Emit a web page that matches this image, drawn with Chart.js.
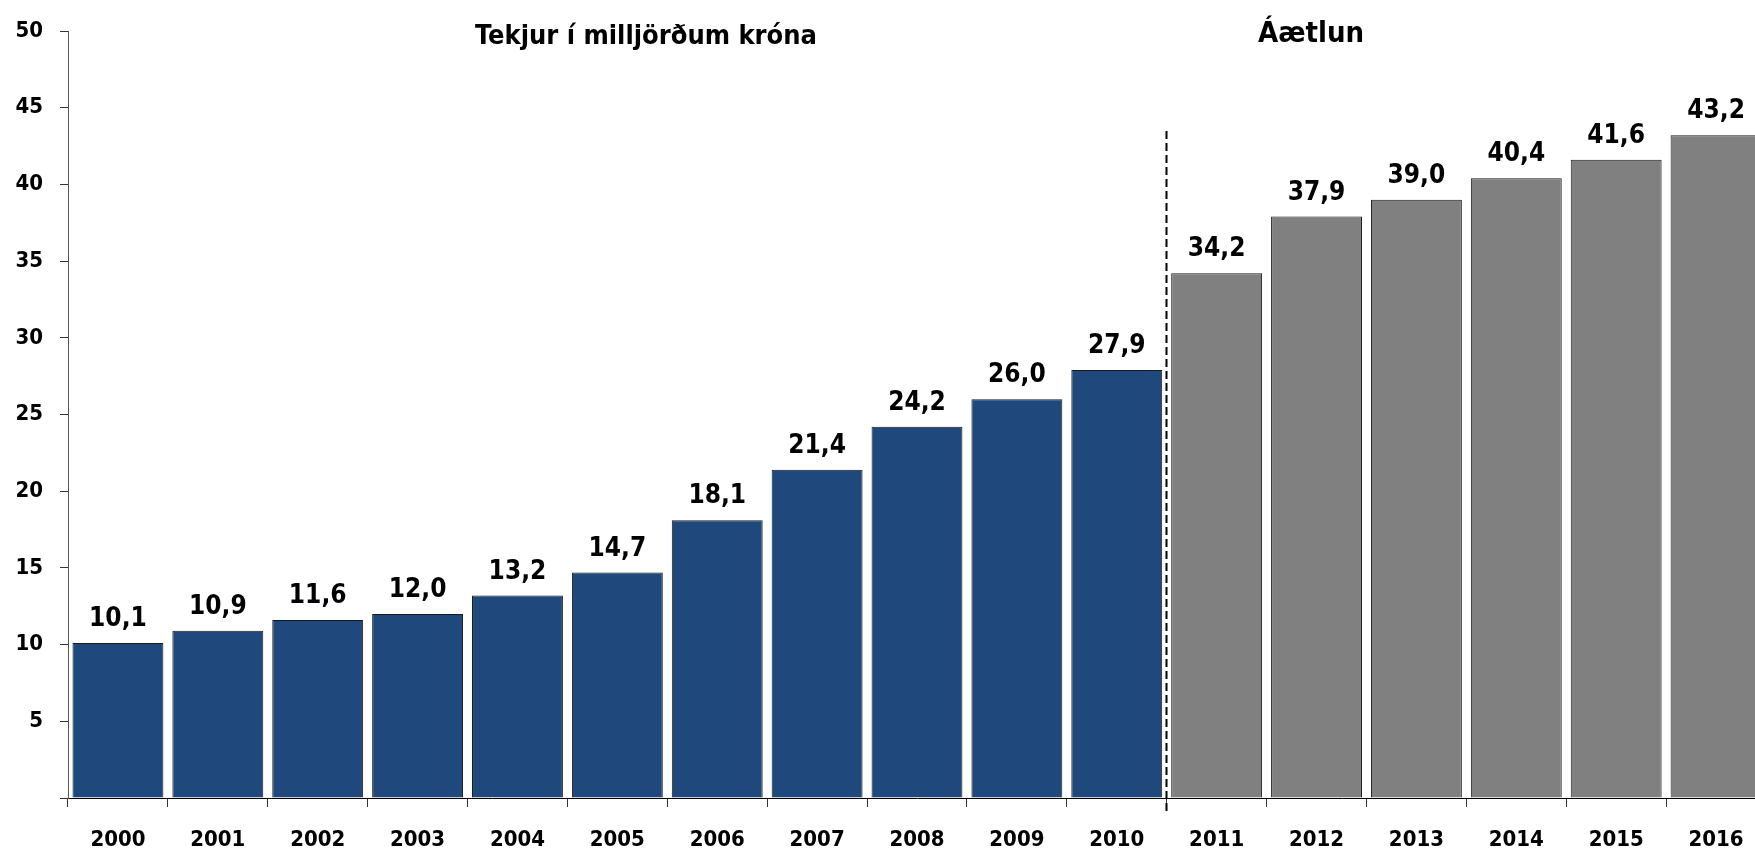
<!DOCTYPE html>
<html>
<head>
<meta charset="utf-8">
<script src="https://cdn.jsdelivr.net/npm/chart.js@4.4.0/dist/chart.umd.min.js"></script>
<style>
  html, body { margin: 0; padding: 0; background: #fff; overflow: hidden; }
  #chart { position: absolute; left: 0; top: 0; }
</style>
</head>
<body>
<canvas id="chart" width="1766" height="852"></canvas>
<script>
// --- Data ---
const years = ['2000', '2001', '2002', '2003', '2004', '2005', '2006', '2007', '2008',
  '2009', '2010', '2011', '2012', '2013', '2014', '2015', '2016'];
const revenue = [10.1, 10.9, 11.6, 12.0, 13.2, 14.7, 18.1, 21.4, 24.2,
  26.0, 27.9, 34.2, 37.9, 39.0, 40.4, 41.6, 43.2];
const actualCount = 11; // 2000-2010 actual, rest is plan
const yTicks = [0, 5, 10, 15, 20, 25, 30, 35, 40, 45, 50];
const titleText = 'Tekjur í milljörðum króna';
const planText = 'Áætlun';

const FONT = "'DejaVu Sans Condensed', 'DejaVu Sans', sans-serif";
const barColors = years.map((y, i) => i < actualCount ? '#1f497d' : '#808080');

// --- Value labels above bars ---
const valueLabels = {
  id: 'valueLabels',
  afterDatasetsDraw(chart) {
    const ctx = chart.ctx;
    const meta = chart.getDatasetMeta(0);
    ctx.save();
    ctx.font = 'bold 26px ' + FONT;
    ctx.fillStyle = '#000';
    ctx.textAlign = 'center';
    ctx.textBaseline = 'alphabetic';
    meta.data.forEach((bar, i) => {
      ctx.fillText(revenue[i].toFixed(1).replace('.', ','), bar.x, bar.y - 17);
    });
    ctx.restore();
  }
};

// --- Titles and dashed divider ---
const decorations = {
  id: 'decorations',
  afterDraw(chart) {
    const ctx = chart.ctx;
    const xs = chart.scales.x;
    const divX = Math.round((xs.getPixelForValue(actualCount - 1) + xs.getPixelForValue(actualCount)) / 2) - 0.5;
    ctx.save();
    ctx.strokeStyle = '#000';
    ctx.lineWidth = 2;
    ctx.setLineDash([8, 4]);
    ctx.beginPath();
    ctx.moveTo(divX, 131);
    ctx.lineTo(divX, 811);
    ctx.stroke();
    ctx.setLineDash([]);

    ctx.fillStyle = '#000';
    ctx.textAlign = 'center';
    ctx.textBaseline = 'alphabetic';
    ctx.font = 'bold 27px ' + FONT;
    ctx.fillText(titleText, 646, 44);
    ctx.font = 'bold 29px ' + FONT;
    ctx.fillText(planText, 1311, 42);
    ctx.restore();
  }
};

const chart = new Chart(document.getElementById('chart'), {
  type: 'bar',
  data: {
    labels: years,
    datasets: [{
      data: revenue,
      backgroundColor: barColors,
      borderColor: '#1a1a1a',
      borderWidth: 1,
      barPercentage: 0.91,
      categoryPercentage: 1.0
    }]
  },
  options: {
    responsive: false,
    animation: false,
    devicePixelRatio: 1,
    layout: { padding: { top: 31, left: 0, right: 0, bottom: 0 } },
    plugins: {
      legend: { display: false },
      tooltip: { enabled: false },
      title: { display: false }
    },
    scales: {
      x: {
        offset: true,
        grid: {
          offset: true,
          drawOnChartArea: false,
          drawTicks: true,
          tickLength: 9,
          color: '#333'
        },
        border: { display: true, color: '#000', width: 1 },
        ticks: {
          color: '#000',
          font: { family: FONT, size: 22, weight: 'bold' },
          padding: 20,
          maxRotation: 0,
          autoSkip: false
        },
        afterFit(scale) { scale.height = 54; }
      },
      y: {
        min: 0,
        max: 50,
        afterBuildTicks(scale) { scale.ticks = yTicks.map(v => ({ value: v })); },
        grid: {
          drawOnChartArea: false,
          drawTicks: true,
          tickLength: 8,
          color: '#333'
        },
        border: { display: true, color: '#555', width: 1 },
        ticks: {
          color: '#000',
          font: { family: FONT, size: 22, weight: 'bold' },
          padding: 17,
          callback: v => v === 0 ? '' : String(v)
        },
        afterFit(scale) { scale.width = 68; }
      }
    }
  },
  plugins: [valueLabels, decorations]
});
</script>
</body>
</html>
